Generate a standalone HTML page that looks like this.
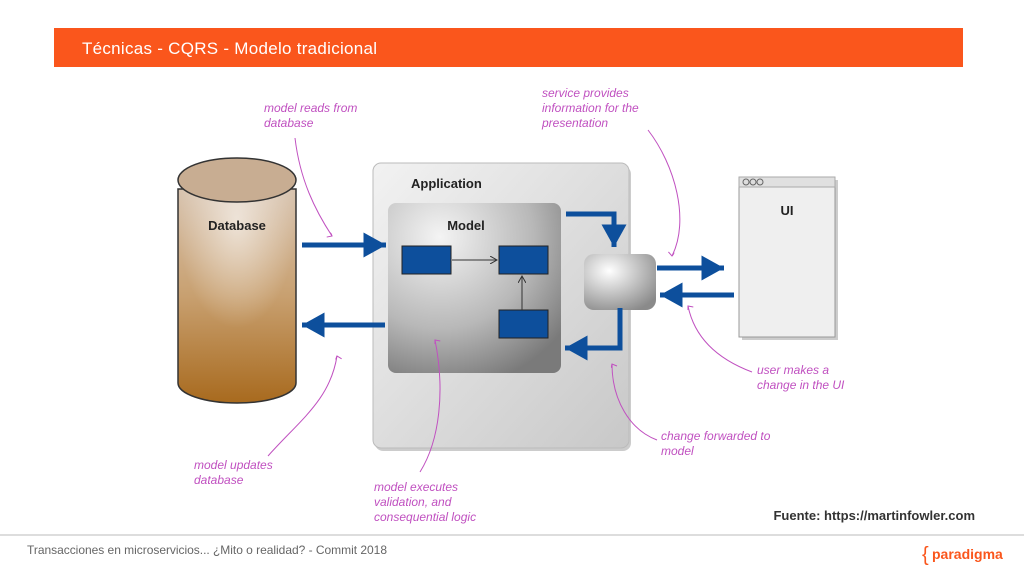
<!DOCTYPE html>
<html><head><meta charset="utf-8"><style>
html,body{margin:0;padding:0;background:#fff;width:1024px;height:576px;overflow:hidden}
svg{display:block}
</style></head><body>
<svg width="1024" height="576" viewBox="0 0 1024 576" xmlns="http://www.w3.org/2000/svg" font-family="Liberation Sans, sans-serif">
<defs>
<linearGradient id="db" x1="0" y1="0" x2="0" y2="1"><stop offset="0" stop-color="#d8c4b0"/><stop offset="0.5" stop-color="#c8a070"/><stop offset="1" stop-color="#a86a1e"/></linearGradient>
<radialGradient id="dbh" cx="0.5" cy="0.15" r="0.5"><stop offset="0" stop-color="#ffffff" stop-opacity="0.6"/><stop offset="1" stop-color="#ffffff" stop-opacity="0"/></radialGradient>
<linearGradient id="app" x1="0" y1="0" x2="1" y2="1"><stop offset="0" stop-color="#f2f2f2"/><stop offset="1" stop-color="#c8c8c8"/></linearGradient>
<radialGradient id="model" cx="0.3" cy="0.2" r="0.9"><stop offset="0" stop-color="#f4f4f4"/><stop offset="0.6" stop-color="#b8b8b8"/><stop offset="1" stop-color="#7a7a7a"/></radialGradient>
<radialGradient id="svc" cx="0.35" cy="0.3" r="0.8"><stop offset="0" stop-color="#ffffff"/><stop offset="1" stop-color="#8a8a8a"/></radialGradient>
<marker id="ah" markerWidth="5" markerHeight="5" refX="4.5" refY="2.5" orient="auto" markerUnits="strokeWidth"><path d="M0,0 L4.5,2.5 L0,5 Z" fill="#0d4f9c"/></marker>
<marker id="sm" markerWidth="8" markerHeight="8" refX="7" refY="4" orient="auto" markerUnits="userSpaceOnUse"><path d="M0,0 L7,4 L0,8" fill="none" stroke="#333" stroke-width="1"/></marker>
<marker id="pk" markerWidth="8" markerHeight="8" refX="4" refY="1" orient="auto" markerUnits="userSpaceOnUse"><path d="M0,0 L4,1 L2,6" fill="none" stroke="#c050c0" stroke-width="1"/></marker>
</defs>
<rect x="54" y="28" width="909" height="39" fill="#fa561c"/>
<text x="82" y="54" font-size="17" fill="#fff" textLength="295">Técnicas - CQRS - Modelo tradicional</text>
<!-- database -->
<path d="M178,189 L178,383 A59,20 0 0 0 296,383 L296,189 Z" fill="url(#db)" stroke="#333" stroke-width="1.5"/>
<path d="M178,189 L178,383 A59,20 0 0 0 296,383 L296,189 Z" fill="url(#dbh)"/>
<ellipse cx="237" cy="180" rx="59" ry="22" fill="#c8ad92" stroke="#333" stroke-width="1.5"/>
<text x="237" y="230" font-size="13" font-weight="bold" text-anchor="middle" fill="#222">Database</text>
<!-- application -->
<rect x="375" y="166" width="256" height="285" rx="8" fill="#999" opacity="0.5"/>
<rect x="373" y="163" width="256" height="285" rx="8" fill="url(#app)" stroke="#bbb"/>
<text x="411" y="188" font-size="13" font-weight="bold" fill="#222">Application</text>
<rect x="388" y="203" width="173" height="170" rx="8" fill="url(#model)"/>
<text x="466" y="230" font-size="13" font-weight="bold" text-anchor="middle" fill="#222">Model</text>
<rect x="402" y="246" width="49" height="28" fill="#0d4f9c" stroke="#222"/>
<rect x="499" y="246" width="49" height="28" fill="#0d4f9c" stroke="#222"/>
<rect x="499" y="310" width="49" height="28" fill="#0d4f9c" stroke="#222"/>
<line x1="452" y1="260" x2="497" y2="260" stroke="#333" marker-end="url(#sm)"/>
<line x1="522" y1="310" x2="522" y2="276" stroke="#333" marker-end="url(#sm)"/>
<!-- service -->
<rect x="584" y="254" width="72" height="56" rx="10" fill="url(#svc)"/>
<!-- UI -->
<rect x="742" y="180" width="96" height="160" fill="#999" opacity="0.5"/>
<rect x="739" y="177" width="96" height="160" fill="#efefef" stroke="#999"/>
<rect x="739" y="177" width="96" height="10" fill="#e0e0e0" stroke="#aaa"/>
<circle cx="746" cy="182" r="3" fill="#ddd" stroke="#666"/><circle cx="753" cy="182" r="3" fill="#ddd" stroke="#666"/><circle cx="760" cy="182" r="3" fill="#ddd" stroke="#666"/>
<text x="787" y="215" font-size="13" font-weight="bold" text-anchor="middle" fill="#222">UI</text>
<!-- blue arrows -->
<g stroke="#0d4f9c" stroke-width="5" fill="none">
<line x1="302" y1="245" x2="386" y2="245" marker-end="url(#ah)"/>
<line x1="385" y1="325" x2="302" y2="325" marker-end="url(#ah)"/>
<polyline points="566,214 614,214 614,247" marker-end="url(#ah)"/>
<line x1="657" y1="268" x2="724" y2="268" marker-end="url(#ah)"/>
<line x1="734" y1="295" x2="660" y2="295" marker-end="url(#ah)"/>
<polyline points="620,308 620,348 565,348" marker-end="url(#ah)"/>
</g>
<!-- pink annotations -->
<g fill="#c050c0" font-size="12" font-style="italic">
<text x="264" y="112">model reads from</text><text x="264" y="127">database</text>
<text x="542" y="97">service provides</text><text x="542" y="112">information for the</text><text x="542" y="127">presentation</text>
<text x="757" y="374">user makes a</text><text x="757" y="389">change in the UI</text>
<text x="661" y="440">change forwarded to</text><text x="661" y="455">model</text>
<text x="194" y="469">model updates</text><text x="194" y="484">database</text>
<text x="374" y="491">model executes</text><text x="374" y="506">validation, and</text><text x="374" y="521">consequential logic</text>
</g>
<g stroke="#c050c0" stroke-width="1" fill="none">
<path d="M295,138 C300,180 315,210 332,236" marker-end="url(#pk)"/>
<path d="M648,130 C675,165 690,220 672,256" marker-end="url(#pk)"/>
<path d="M752,372 C720,360 695,340 688,306" marker-end="url(#pk)"/>
<path d="M657,440 C630,430 612,400 612,364" marker-end="url(#pk)"/>
<path d="M268,456 C300,420 330,400 337,356" marker-end="url(#pk)"/>
<path d="M420,472 C440,440 445,390 435,340" marker-end="url(#pk)"/>
</g>
<text x="975" y="520" font-size="13" font-weight="bold" text-anchor="end" fill="#333">Fuente: https://martinfowler.com</text>
<line x1="0" y1="535" x2="1024" y2="535" stroke="#ddd" stroke-width="2"/>
<text x="27" y="554" font-size="12" fill="#666" textLength="360">Transacciones en microservicios... ¿Mito o realidad? - Commit 2018</text>
<text x="922" y="561" font-size="20" fill="#fa561c">{</text>
<text x="932" y="559" font-size="14" font-weight="bold" fill="#fa561c">paradigma</text>
</svg>
</body></html>
